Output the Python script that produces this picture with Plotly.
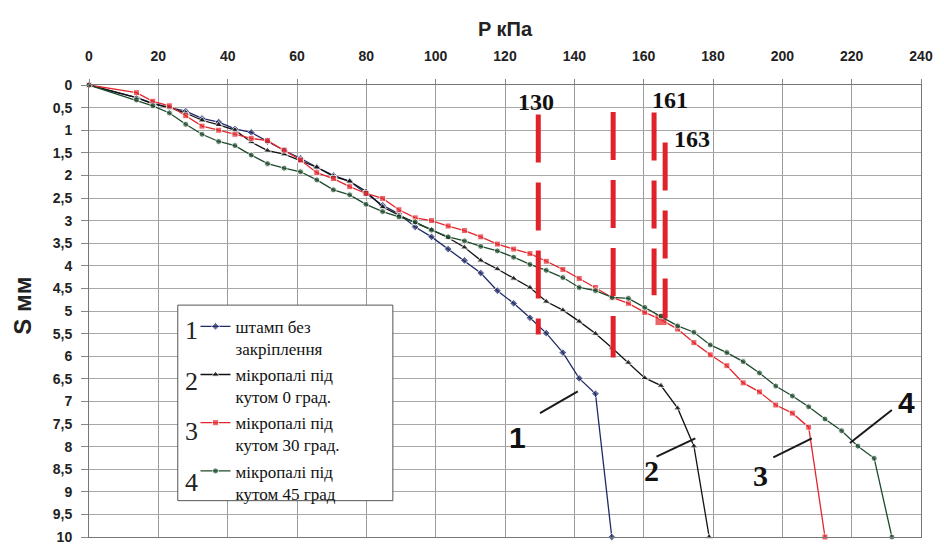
import plotly.graph_objects as go

# ---------------- data ----------------
# load steps P, kPa (shared by all tests)
P_STEPS = [0, 13.7, 18.4, 23.2, 27.9, 32.6, 37.4, 42.1, 46.8, 51.5, 56.3, 61.0, 65.7,
           70.5, 75.2, 79.9, 84.7, 89.4, 94.1, 98.8, 103.6, 108.3, 113.0, 117.8, 122.5,
           127.2, 131.9, 136.7, 141.4, 146.1, 150.9, 155.6, 160.3, 165.0, 169.8, 174.5,
           179.2, 184.0, 188.7, 193.4, 198.1, 202.9, 207.6, 212.3, 217.1, 221.8, 226.5]

# 1 - stamp without reinforcement
P1 = P_STEPS[:30] + [150.8]
S1 = [0, 0.28, 0.40, 0.50, 0.58, 0.74, 0.82, 0.97, 1.05, 1.25, 1.45, 1.62, 1.82, 2.00,
      2.13, 2.40, 2.66, 2.85, 3.14, 3.36, 3.63, 3.88, 4.16, 4.55, 4.83, 5.15, 5.49, 5.92,
      6.49, 6.83, 10.0]

# 2 - micropiles 0 deg
P2 = P_STEPS[:36] + [178.9]
S2 = [0, 0.28, 0.42, 0.50, 0.62, 0.78, 0.88, 1.00, 1.26, 1.45, 1.53, 1.68, 1.82, 2.02,
      2.13, 2.35, 2.70, 2.88, 3.05, 3.20, 3.38, 3.59, 3.88, 4.07, 4.28, 4.48, 4.79, 4.98,
      5.23, 5.50, 5.82, 6.14, 6.48, 6.65, 7.15, 7.99, 10.0]

# 3 - micropiles 30 deg
P3 = P_STEPS[:43] + [212.3]
S3 = [0, 0.17, 0.36, 0.46, 0.68, 0.91, 1.00, 1.09, 1.18, 1.23, 1.44, 1.66, 1.94, 2.07,
      2.25, 2.40, 2.51, 2.76, 2.94, 3.00, 3.12, 3.22, 3.36, 3.52, 3.63, 3.73, 3.90, 4.08,
      4.28, 4.48, 4.70, 4.83, 5.03, 5.19, 5.40, 5.70, 5.97, 6.21, 6.59, 6.79, 7.08, 7.26,
      7.57, 10.0]

# 4 - micropiles 45 deg
P4 = P_STEPS[:47] + [231.6]
S4 = [0, 0.33, 0.46, 0.62, 0.87, 1.09, 1.25, 1.34, 1.55, 1.74, 1.84, 1.92, 2.10, 2.32,
      2.43, 2.64, 2.80, 2.92, 3.03, 3.21, 3.36, 3.45, 3.57, 3.67, 3.81, 3.97, 4.10, 4.26,
      4.48, 4.55, 4.70, 4.72, 4.92, 5.11, 5.33, 5.47, 5.75, 5.92, 6.12, 6.37, 6.66, 6.88,
      7.12, 7.39, 7.65, 7.99, 8.26, 10.0]

NAMES = ["штамп без<br>закріплення",
         "мікропалі під<br>кутом 0 град.",
         "мікропалі під<br>кутом 30 град.",
         "мікропалі під<br>кутом 45 град"]

# red dashed limit lines
VLINE_P = [129.6, 151.2, 163.0, 166.2]
VLINE_TOP = [0.65, 0.60, 0.61, 1.27]
VLINE_BOTTOM = [5.52, 6.03, 4.65, 5.16]
VLINE_TEXT = ["130", "161", "163"]
VLINE_TEXT_P = [128.8, 167.6, 174.0]
VLINE_TEXT_S = [0.37, 0.33, 1.20]

# curve labels and leader lines
CURVE_LABELS = ["1", "2", "3", "4"]
LABEL_P = [123.7, 162.3, 193.6, 235.9]
LABEL_S = [7.80, 8.52, 8.65, 7.02]
LEADER_P0 = [130.1, 163.7, 197.4, 219.5]
LEADER_S0 = [7.26, 8.22, 8.24, 7.92]
LEADER_P1 = [141.0, 174.9, 208.5, 231.6]
LEADER_S1 = [6.78, 7.82, 7.82, 7.19]

X_TICKS = [0, 20, 40, 60, 80, 100, 120, 140, 160, 180, 200, 220, 240]
Y_TICKS = [0, 0.5, 1, 1.5, 2, 2.5, 3, 3.5, 4, 4.5, 5, 5.5, 6, 6.5, 7, 7.5, 8, 8.5, 9,
           9.5, 10]
Y_TICK_TEXT = ["0", "0,5", "1", "1,5", "2", "2,5", "3", "3,5", "4", "4,5", "5", "5,5",
               "6", "6,5", "7", "7,5", "8", "8,5", "9", "9,5", "10"]

# ---------------- figure ----------------
SERIF = "Liberation Serif, Times New Roman, serif"
SANS = "Liberation Sans, Arial, sans-serif"

fig = go.Figure()

styles = [
    dict(color="#1f2a66", symbol="diamond", size=6),
    dict(color="#111111", symbol="triangle-up", size=7),
    dict(color="#e3262b", symbol="square", size=6),
    dict(color="#1d4a2c", symbol="circle", size=6),
]
series = [(P1, S1), (P2, S2), (P3, S3), (P4, S4)]
for i, ((px, sy), st, nm) in enumerate(zip(series, styles, NAMES)):
    sizes = [st["size"]] * len(px)
    if i == 2:
        sizes[33] = 12
    fig.add_trace(go.Scatter(
        x=px, y=sy, mode="lines+markers", name=nm, legendgroup=str(i),
        line=dict(color=st["color"], width=1.3),
        marker=dict(symbol=st["symbol"], size=sizes, color=st["color"]),
        cliponaxis=False))

for p, t, b in zip(VLINE_P, VLINE_TOP, VLINE_BOTTOM):
    fig.add_trace(go.Scatter(
        x=[p, p], y=[t, b], mode="lines", showlegend=False, hoverinfo="skip",
        line=dict(color="#e0222a", width=5, dash="48px,20px")))

for x0, y0, x1, y1 in zip(LEADER_P0, LEADER_S0, LEADER_P1, LEADER_S1):
    fig.add_shape(type="line", xref="x", yref="y", x0=x0, y0=y0, x1=x1, y1=y1,
                  line=dict(color="#1a1a1a", width=2))

for txt, px, sy in zip(VLINE_TEXT, VLINE_TEXT_P, VLINE_TEXT_S):
    fig.add_annotation(x=px, y=sy, text=f"<b>{txt}</b>", showarrow=False,
                       xanchor="center", yanchor="middle",
                       font=dict(family=SERIF, size=24, color="#111111"))

for i, (txt, px, sy) in enumerate(zip(CURVE_LABELS, LABEL_P, LABEL_S)):
    fam = SANS if txt in ("1", "4") else SERIF
    fig.add_annotation(x=px, y=sy, text=f"<b>{txt}</b>", showarrow=False,
                       xanchor="center", yanchor="middle",
                       font=dict(family=fam, size=30, color="#111111"))

# legend box
fig.add_shape(type="rect", xref="paper", yref="paper", x0=0.1067, x1=0.3652,
              y0=0.0804, y1=0.513, fillcolor="white",
              line=dict(color="#555555", width=1), layer="above")
LEG_NUM_Y = [0.457, 0.345, 0.233, 0.121]
for txt, yy in zip(CURVE_LABELS, LEG_NUM_Y):
    fig.add_annotation(xref="paper", yref="paper", x=0.1235, y=yy, text=txt,
                       xanchor="center", yanchor="middle",
                       showarrow=False, font=dict(family=SERIF, size=26, color="#222"))

fig.add_annotation(xref="paper", yref="paper", x=0.5008, y=1.124, text="<b>P кПа</b>",
                   xanchor="center", yanchor="middle",
                   showarrow=False, font=dict(family=SANS, size=20, color="#222"))
fig.add_annotation(xref="paper", yref="paper", x=-0.081, y=0.511, text="<b>S мм</b>",
                   xanchor="center", yanchor="middle",
                   textangle=-90, showarrow=False,
                   font=dict(family=SANS, size=24, color="#222"))

fig.update_layout(
    width=944, height=555,
    margin=dict(l=89, r=23, t=85, b=10),
    paper_bgcolor="white", plot_bgcolor="white",
    showlegend=True,
    legend=dict(x=0.128, y=0.505, xanchor="left", yanchor="top",
                bgcolor="rgba(0,0,0,0)", borderwidth=0,
                font=dict(family=SERIF, size=17, color="#111111"),
                tracegroupgap=1, valign="top", itemwidth=30),
    xaxis=dict(side="top", range=[0, 240], tickvals=X_TICKS,
               showgrid=True, gridcolor="#9c9c9c", gridwidth=1,
               showline=True, linecolor="#777777", linewidth=1, mirror=True,
               ticks="outside", ticklen=5, tickcolor="#888888",
               ticklabelstandoff=12,
               tickfont=dict(family=SANS, size=14, color="#222", weight="bold"),
               zeroline=False),
    yaxis=dict(range=[10, 0], tickvals=Y_TICKS, ticktext=Y_TICK_TEXT,
               showgrid=True, gridcolor="#a8a8a8", gridwidth=1,
               showline=True, linecolor="#777777", linewidth=1, mirror=True,
               ticks="outside", ticklen=7, tickcolor="#888888",
               ticklabelstandoff=6,
               tickfont=dict(family=SANS, size=14, color="#222", weight="bold"),
               zeroline=False),
)

fig.write_html("out.html")
